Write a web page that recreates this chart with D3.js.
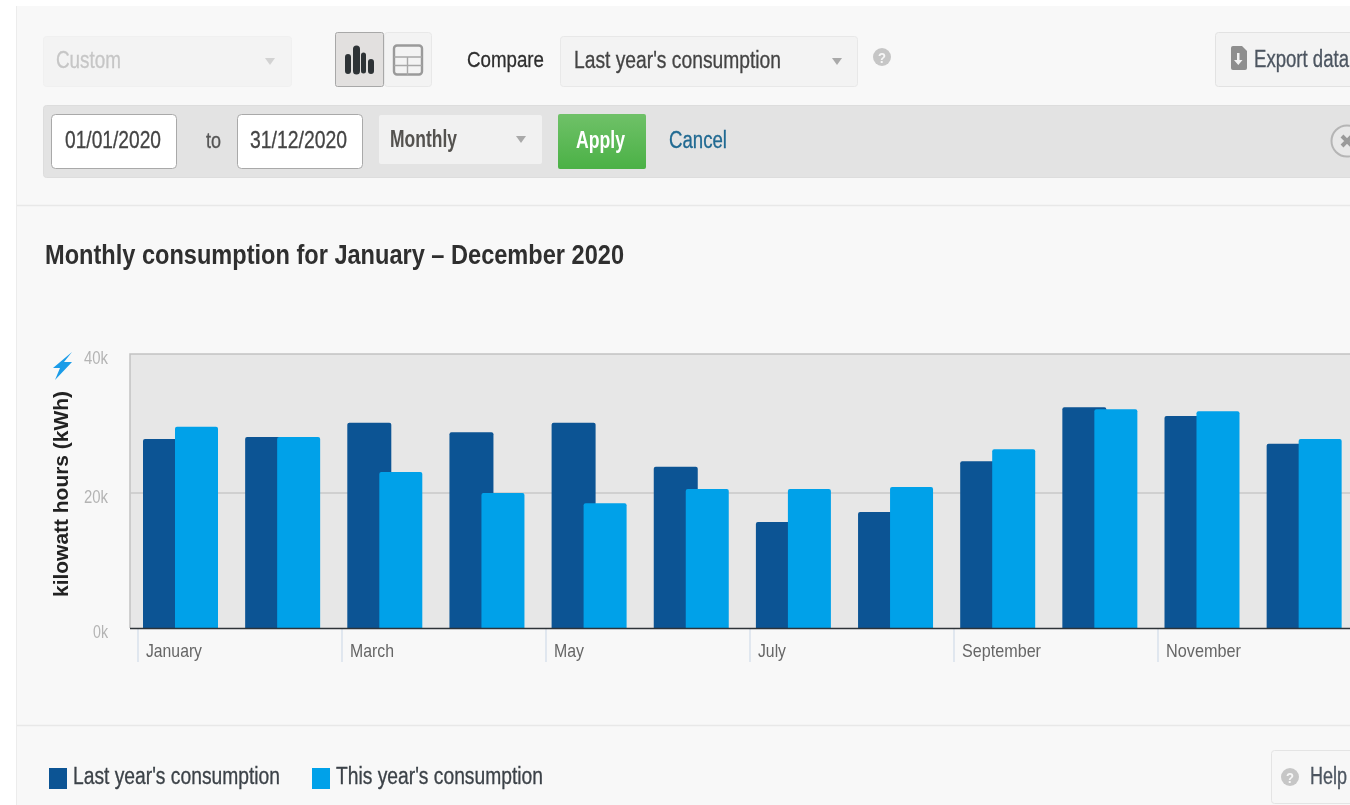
<!DOCTYPE html>
<html><head><meta charset="utf-8">
<script src="https://cdn.jsdelivr.net/npm/d3@7/dist/d3.min.js"></script>
<style>html,body{margin:0;padding:0;background:#fff;overflow:hidden}svg{display:block;font-family:"Liberation Sans",Arial,sans-serif;filter:blur(.4px)}text{stroke:currentColor;stroke-width:0}</style>
</head><body><svg id="c" width="1350" height="805"></svg>
<script>
const months=["January","February","March","April","May","June","July","August","September","October","November","December"];
const labelledMonths=["January","March","May","July","September","November"];
const seriesNames=["Last year's consumption","This year's consumption"];
const lastYear=[28000,28300,30400,29000,30400,23900,15700,17200,24700,32700,31400,27300];
const thisYear=[29800,28300,23100,20000,18500,20600,20600,20900,26500,32400,32100,28000];
const yTicks=[0,20000,40000];
const colors=["#0c5494","#00a1e9"];

const svg=d3.select("#c");
const R=(x,y,w,h,fill,stroke,r)=>svg.append("rect").attr("x",x).attr("y",y).attr("width",w).attr("height",h).attr("fill",fill).attr("stroke",stroke||"none").attr("rx",r||0);
const T=(s,x,y,size,len,fill,bold)=>svg.append("text").attr("x",x).attr("y",y).attr("font-size",size).attr("fill",fill).style("stroke",fill).style("stroke-width",bold?0:0.3).attr("font-weight",bold?"bold":"normal").attr("textLength",len).attr("lengthAdjust","spacingAndGlyphs").text(s);
const Arrow=(cx,cy,c)=>svg.append("path").attr("d",`M${cx-5},${cy-3}h10l-5,7z`).attr("fill",c||"#a9a9a9");

// panel
R(16,6,1334,799,"#f8f8f8");
svg.append("line").attr("x1",16.5).attr("x2",16.5).attr("y1",6).attr("y2",805).attr("stroke","#ececec");

// top controls
R(43.5,36.5,248,50,"#f3f3f3","#f0f0f0",3);
T("Custom",56,68,23,65,"#c6c6c6");
Arrow(270,61,"#d2d2d2");
R(384.5,32.5,47,54,"#f3f3f3","#e8e8e8",3);
R(335.5,32.5,48,54,"#e2e0df","#a8a8a8",2);
svg.append("path").attr("d","M345,57a3,3 0 0 1 6,0v14a3,3 0 0 1 -6,0zM353,49a3.500,3.500 0 0 1 7,0v22a3.500,3.500 0 0 1 -7,0zM361,55a2.500,2.500 0 0 1 5,0v16a2.500,2.500 0 0 1 -5,0zM368,62a3,3 0 0 1 6,0v9a3,3 0 0 1 -6,0z").attr("fill","#2e3336");
R(394,45.500,28,29,"none","#9a9a9a",3).attr("stroke-width",2.4);
svg.append("path").attr("d","M394,57H422M394,65.500H422M407.5,57V75").attr("stroke","#a8a8a8").attr("stroke-width",1.4).attr("fill","none");
T("Compare",467,67,22.500,77,"#2e2e2e");
R(560.5,36.5,297,50,"#f3f3f3","#e8e8e8",3);
T("Last year's consumption",574,68,23,207,"#444");
Arrow(837,61);
svg.append("circle").attr("cx",882).attr("cy",57).attr("r",9).attr("fill","#c6c6c6");
T("?",878,63,15,8,"#f7f7f7",true);
R(1215.5,32.5,160,54,"#f3f3f3","#e2e2e2",3);
svg.append("path").attr("d","M1233,46h9l5,5v17a2,2 0 0 1 -2,2h-12a2,2 0 0 1 -2,-2v-20a2,2 0 0 1 2,-2z").attr("fill","#8e8e8e");
svg.append("path").attr("d","M1237,53h2.5v7h3l-4.200,5l-4.300,-5h3z").attr("fill","#f3f3f3");
T("Export data",1254,67,23,95,"#4c5560");

// date bar
R(43.5,105.5,1320,72,"#e3e3e3","#dddddd",3);
R(51.5,114.500,125,54,"#fff","#a9a9a9",4);
T("01/01/2020",65,148,24,96,"#444");
T("to",206,148,22,15,"#555");
R(237.5,114.500,125,54,"#fff","#a9a9a9",4);
T("31/12/2020",250,148,24,97,"#444");
R(379,115,163,49,"#f1f1f1",null,2);
T("Monthly",390,147,23,67,"#54524f",true);
Arrow(521,139);
const grad=svg.append("defs").append("linearGradient").attr("id","g").attr("x1",0).attr("x2",0).attr("y1",0).attr("y2",1);
grad.append("stop").attr("offset",0).attr("stop-color","#6fc168");
grad.append("stop").attr("offset",1).attr("stop-color","#4bb146");
R(558,114,88,55,"url(#g)",null,2);
T("Apply",576,148,23,49,"#fff",true);
T("Cancel",669,148,23,58,"#216a92");
svg.append("circle").attr("cx",1347).attr("cy",141).attr("r",15.500).attr("fill","#e8e8e8").attr("stroke","#b5b5b5").attr("stroke-width",2);
svg.append("path").attr("d","M1342,136L1352,146M1352,136L1342,146").attr("stroke","#9a9a9a").attr("stroke-width",4);

// separators
svg.append("line").attr("x1",17).attr("x2",1350).attr("y1",205.500).attr("y2",205.500).attr("stroke","#e8e8e8").attr("stroke-width",1.500);
svg.append("line").attr("x1",17).attr("x2",1350).attr("y1",725.500).attr("y2",725.500).attr("stroke","#e8e8e8").attr("stroke-width",1.500);

// title
T("Monthly consumption for January – December 2020",45,264,28,579,"#2f2f2f",true);

// chart
const x=d3.scalePoint().domain(months).range([138,138+11*102]);
const xBars=d3.scalePoint().domain(months).range([143,143+11*102.15]);
const y=d3.scaleLinear().domain([0,40000]).range([628,358]);
const offset=d3.scaleOrdinal().domain(seriesNames).range([0,32]);
const widths=d3.scaleOrdinal().domain(seriesNames).range([44,43]);
const color=d3.scaleOrdinal().domain(seriesNames).range(colors);

svg.append("rect").attr("x",130).attr("y",354).attr("width",1225).attr("height",274).attr("fill","#e7e7e7");
svg.append("path").attr("d","M130,628V354H1350").attr("fill","none").attr("stroke","#c2c2c2").attr("stroke-width",1.500);

const yAxis=svg.append("g").attr("transform","translate(130,0)")
  .call(d3.axisLeft(y).tickValues(yTicks).tickSize(0).tickPadding(22).tickFormat(d=>d/1000+"k"));
yAxis.select(".domain").remove();
yAxis.selectAll("text").attr("font-family","Liberation Sans").attr("font-size",18).attr("fill","#b4b4b4")
  .attr("dy",d=>d===40000?"0.3em":"0.5em").attr("x",-22)
  .attr("textLength",d=>d===0?15:24).attr("lengthAdjust","spacingAndGlyphs");
svg.selectAll("line.grid").data(yTicks.filter(d=>d===20000)).join("line").attr("class","grid")
  .attr("x1",130).attr("x2",1350).attr("y1",d=>y(d)).attr("y2",d=>y(d)).attr("stroke","#c9c9c9").attr("stroke-width",1.500);

const barPath=(x0,w,top,bottom,r)=>`M${x0},${bottom}V${top+r}Q${x0},${top} ${x0+r},${top}H${x0+w-r}Q${x0+w},${top} ${x0+w},${top+r}V${bottom}Z`;
[lastYear,thisYear].forEach((vals,i)=>{
  const name=seriesNames[i];
  svg.append("g").selectAll("path").data(vals).join("path")
    .attr("d",(d,j)=>barPath(xBars(months[j])+offset(name),widths(name),y(d),y(0),2))
    .attr("fill",color(name));
});
const xAxis=svg.append("g").attr("transform","translate(-0.5,628)")
  .call(d3.axisBottom(x).tickValues(labelledMonths).tickSize(34).tickPadding(0));
xAxis.select(".domain").remove();
xAxis.selectAll("line").attr("stroke","#c9d6e6");
const labelWidth={January:56,March:44,May:30,July:28,September:79,November:75};
xAxis.selectAll("text").attr("text-anchor","start").attr("x",8).attr("y",29).attr("dy",0)
  .attr("font-family","Liberation Sans").attr("font-size",19).attr("fill","#666")
  .attr("textLength",d=>labelWidth[d]).attr("lengthAdjust","spacingAndGlyphs");
svg.append("line").attr("x1",130).attr("x2",1350).attr("y1",628.500).attr("y2",628.500).attr("stroke","#2d3338").attr("stroke-width",1.500);

// y title & bolt
svg.append("text").attr("transform","translate(67.500,597) rotate(-90)").attr("font-size",21).attr("font-weight","bold")
  .attr("fill","#222").attr("textLength",206).attr("lengthAdjust","spacingAndGlyphs").text("kilowatt hours (kWh)");
svg.append("path").attr("d","M72,352L53,368H60L55,380L72,362H64Z").attr("fill","#1b9ce8");

// legend
seriesNames.forEach((n,i)=>{
  const lx=[49,312][i];
  R(lx,768,18,21,color(n));
  T(n,lx+24,784,23,207,"#3c4248");
});

// help
R(1271.5,750.500,100,53,"#f7f7f7","#e4e4e4",3);
svg.append("circle").attr("cx",1290).attr("cy",777).attr("r",9).attr("fill","#c6c6c6");
T("?",1286,783,15,8,"#f7f7f7",true);
T("Help",1310,784,23,37,"#4c5560");
</script></body></html>
